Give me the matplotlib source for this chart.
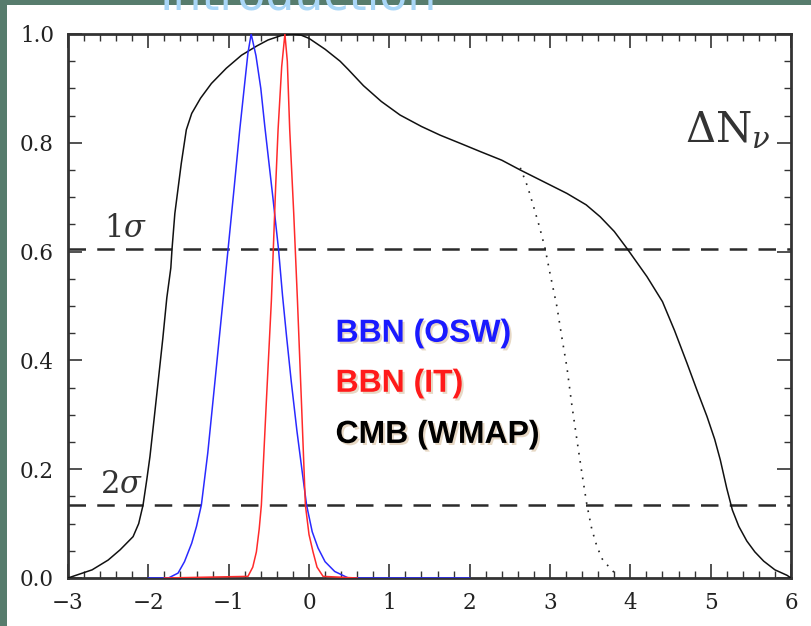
import matplotlib
matplotlib.use("Agg")
import matplotlib.pyplot as plt
import matplotlib.patheffects as pe
from matplotlib.patches import Rectangle
from matplotlib.ticker import MultipleLocator

# CMB (WMAP) likelihood for Delta N_nu
cmb_x = [-3.0, -2.88, -2.7, -2.5, -2.35, -2.19, -2.12, -2.066, -2.02, -1.98, -1.93,
         -1.88, -1.82, -1.77, -1.72, -1.705, -1.67, -1.59, -1.527, -1.46, -1.35,
         -1.215, -1.03, -0.84, -0.65, -0.51, -0.35, -0.22, -0.1, 0.0, 0.2, 0.387,
         0.487, 0.678, 0.9, 1.134, 1.4, 1.633, 1.9, 2.13, 2.4, 2.63, 2.9, 3.21,
         3.45, 3.625, 3.8, 3.957, 4.207, 4.4, 4.55, 4.705, 4.83, 4.954, 5.05,
         5.12, 5.2, 5.27, 5.35, 5.45, 5.55, 5.66, 5.8, 5.95, 6.0]
cmb_y = [0.0, 0.006, 0.015, 0.033, 0.052, 0.076, 0.10, 0.134, 0.18, 0.223, 0.29,
         0.358, 0.44, 0.515, 0.57, 0.605, 0.670, 0.762, 0.824, 0.854, 0.882,
         0.909, 0.937, 0.961, 0.978, 0.989, 0.997, 1.0, 0.998, 0.992, 0.972, 0.95,
         0.935, 0.905, 0.876, 0.851, 0.83, 0.814, 0.798, 0.784, 0.768, 0.75, 0.73,
         0.707, 0.686, 0.664, 0.637, 0.606, 0.554, 0.508, 0.455, 0.395, 0.345,
         0.297, 0.255, 0.217, 0.165, 0.125, 0.095, 0.068, 0.048, 0.031, 0.015,
         0.005, 0.0]

# dotted branch of the CMB curve
cmb_dot_x = [2.63, 2.72, 2.795, 2.87, 2.94, 3.0, 3.086, 3.15, 3.21, 3.27, 3.335,
             3.40, 3.46, 3.52, 3.584, 3.65, 3.73, 3.8]
cmb_dot_y = [0.754, 0.72, 0.683, 0.645, 0.605, 0.56, 0.499, 0.44, 0.388, 0.32, 0.254,
             0.19, 0.134, 0.09, 0.058, 0.035, 0.021, 0.01]

# BBN (OSW)
osw_x = [-2.0, -1.75, -1.63, -1.55, -1.46, -1.40, -1.34, -1.26, -1.173, -1.07,
         -1.007, -0.93, -0.862, -0.80, -0.76, -0.72, -0.66, -0.60, -0.55, -0.50,
         -0.45, -0.38, -0.33, -0.28, -0.22, -0.15, -0.08, -0.03, 0.04, 0.113,
         0.20, 0.32, 0.49, 2.0]
osw_y = [0.0, 0.0, 0.009, 0.03, 0.064, 0.095, 0.134, 0.23, 0.358, 0.511,
         0.605, 0.72, 0.824, 0.91, 0.965, 1.0, 0.96, 0.90, 0.83, 0.765,
         0.70, 0.605, 0.52, 0.445, 0.36, 0.27, 0.19, 0.134, 0.085, 0.055,
         0.03, 0.012, 0.0, 0.0]

# BBN (IT)
it_x = [-1.8, -0.76, -0.70, -0.655, -0.62, -0.593, -0.53, -0.468, -0.415, -0.385,
        -0.34, -0.30, -0.27, -0.24, -0.19, -0.144, -0.095, -0.045, 0.0, 0.05,
        0.10, 0.175, 0.6]
it_y = [0.0, 0.003, 0.02, 0.048, 0.09, 0.134, 0.327, 0.511, 0.72, 0.824,
        0.94, 1.0, 0.95, 0.824, 0.67, 0.511, 0.327, 0.134, 0.08, 0.048,
        0.02, 0.003, 0.0]

sigma_levels = [0.605, 0.135]
sigma_labels = [r"1$\sigma$", r"2$\sigma$"]
legend_labels = ["BBN (OSW)", "BBN (IT)", "CMB (WMAP)"]
legend_colors = ["#1a1aff", "#ff1a1a", "#000000"]

plt.rcParams["mathtext.fontset"] = "dejavuserif"

fig = plt.figure(figsize=(8.12, 6.26), dpi=100, facecolor="#577c6d")
# white slide panel behind the plot
fig.patches.append(Rectangle((7 / 812, 0), 1, 1 - 5 / 626, transform=fig.transFigure,
                             facecolor="white", edgecolor="none", zorder=-10))
# slide title, mostly cut off at the top edge
fig.text(160 / 812, 1 - 10 / 626, "Introduction", color="#a9d6f7", fontsize=33,
         family="DejaVu Sans", va="baseline", ha="left", zorder=5)

ax = fig.add_axes([68 / 812, 48 / 626, 723 / 812, 544 / 626])
ax.set_facecolor("white")

for lev in sigma_levels:
    ax.axhline(lev, color="#2b2b2b", lw=1.8, dashes=(7, 4.5), zorder=2)

ax.plot(cmb_x, cmb_y, color="#111111", lw=1.1, zorder=3)
ax.plot(cmb_dot_x, cmb_dot_y, color="#222222", lw=1.2, linestyle=(0, (1, 4)), zorder=3)
ax.plot(osw_x, osw_y, color="#2a2aff", lw=1.1, zorder=3)
ax.plot(it_x, it_y, color="#ff2a2a", lw=1.1, zorder=3)

ax.set_xlim(-3, 6)
ax.set_ylim(0, 1)
ax.xaxis.set_major_locator(MultipleLocator(1))
ax.xaxis.set_minor_locator(MultipleLocator(0.2))
ax.set_yticks([0.0, 0.2, 0.4, 0.6, 0.8, 1.0])
ax.set_yticklabels([f"{v:.1f}" for v in [0.0, 0.2, 0.4, 0.6, 0.8, 1.0]])
ax.yaxis.set_minor_locator(MultipleLocator(0.05))

ax.tick_params(which="both", direction="in", top=True, right=True, colors="#333333",
               labelcolor="#222222")
ax.tick_params(which="major", length=10, width=1.2, pad=10)
ax.tick_params(which="minor", length=5, width=1.0)
for lab in ax.get_xticklabels() + ax.get_yticklabels():
    lab.set_family("DejaVu Serif")
    lab.set_fontsize(15.5)
for sp in ax.spines.values():
    sp.set_linewidth(2.0)
    sp.set_color("#333333")

# sigma labels and axis name
ax.text(-2.55, 0.627, sigma_labels[0], fontsize=22, family="DejaVu Serif",
        color="#333333", va="baseline")
ax.text(-2.6, 0.157, sigma_labels[1], fontsize=22, family="DejaVu Serif",
        color="#333333", va="baseline")
ax.text(4.68, 0.80, r"$\Delta\mathrm{N}_{\nu}$", fontsize=30, color="#333333",
        va="baseline")

shadow = [pe.SimplePatchShadow(offset=(1.5, -1.5), shadow_rgbFace="#b08040", alpha=0.3),
          pe.Normal()]
for lab, col, yy in zip(legend_labels, legend_colors, [0.449, 0.357, 0.263]):
    ax.text(0.33, yy, lab, color=col, fontsize=23, fontweight="bold",
            family="Liberation Sans", va="center", ha="left", path_effects=shadow)

fig.savefig("out.png", dpi=100, facecolor=fig.get_facecolor())
